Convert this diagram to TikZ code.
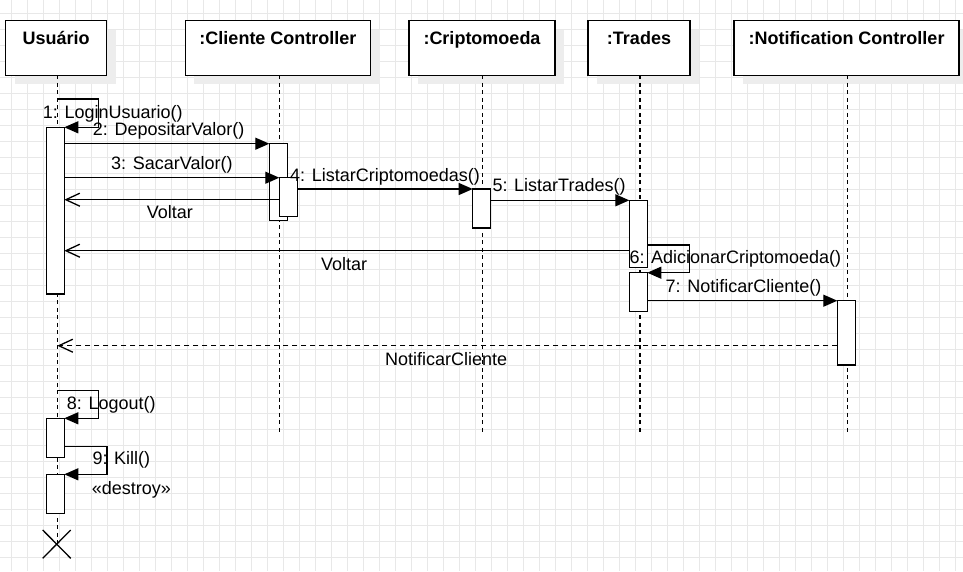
\documentclass[tikz,border=0pt]{standalone}
\usepackage{fontspec}
\setmainfont{Liberation Sans}
\usetikzlibrary{arrows.meta,shadows}
\begin{document}
\begin{tikzpicture}[x=1pt,y=-1pt,
  font=\fontsize{18}{21}\selectfont,
  gridline/.style={draw=black!9, line width=0.8pt},
  objbox/.style={draw=black, line width=1.5pt, fill=white, minimum height=54.6pt, inner sep=0pt,
    drop shadow={shadow xshift=9pt, shadow yshift=-9pt, fill=black!7, opacity=1}},
  objtitle/.style={anchor=base, font=\fontsize{18}{21}\selectfont\bfseries, inner sep=0pt},
  lifeline/.style={line width=1.3pt, dash pattern=on 4pt off 3.5pt},
  act/.style={draw=black, line width=1.3pt, fill=white, minimum width=18pt, inner sep=0pt},
  msg/.style={line width=1.3pt, -{Triangle[length=14pt,width=12pt]}},
  ret/.style={line width=1.3pt, -{Straight Barb[length=14pt,width=13pt]}},
  retd/.style={ret, dash pattern=on 5pt off 4pt},
  lbl/.style={anchor=base west, inner sep=0pt},
  xmark/.style={line width=1.3pt}
]
\useasboundingbox (0,0) rectangle (963,571);
% grid
\foreach \k in {0,...,60} { \draw[gridline] (11.7+16*\k,0) -- (11.7+16*\k,571); }
\foreach \k in {0,...,36} { \draw[gridline] (0,13+16*\k) -- (963,13+16*\k); }

% object boxes
\node[objbox, minimum width=101pt] (bu) at (56.2,48) {};
\node[objbox, minimum width=185.4pt] (bc) at (278,48) {};
\node[objbox, minimum width=146pt] (bk) at (482,48) {};
\node[objbox, minimum width=102pt] (bt) at (639,48) {};
\node[objbox, minimum width=225pt] (bn) at (846.5,48) {};
\node[objtitle] (tu) at (56.2,44.5) {Usuário};
\node[objtitle] (tc) at (278,44.5) {:Cliente Controller};
\node[objtitle] (tk) at (482,44.5) {:Criptomoeda};
\node[objtitle] (tt) at (639,44.5) {:Trades};
\node[objtitle] (tn) at (846.5,44.5) {:Notification Controller};

% lifeline ends
\coordinate (lu0) at (57.3,75.3);   \coordinate (lu1) at (57.3,544);
\coordinate (lc0) at (279.3,75.3);  \coordinate (lc1) at (279.3,433);
\coordinate (lk0) at (482.5,75.3);  \coordinate (lk1) at (482.5,433);
\coordinate (lt0) at (640,75.3);    \coordinate (lt1) at (640,433);
\coordinate (ln0) at (847.7,75.3);  \coordinate (ln1) at (847.7,433);
\draw[lifeline] (lu0) -- (lu1);
\draw[lifeline] (lc0) -- (lc1);
\draw[lifeline] (lk0) -- (lk1);
\draw[lifeline] (lt0) -- (lt1);
\draw[lifeline] (ln0) -- (ln1);

% activations
\node[act, minimum width=17.6pt, minimum height=166.7pt] (u1) at (55.5,210.65) {};
\node[act, minimum width=17.6pt, minimum height=39pt] (u2) at (55.5,437.8) {};
\node[act, minimum width=17.6pt, minimum height=39pt] (u3) at (55.5,493.8) {};
\node[act, minimum height=77pt] (c1) at (278.3,182.2) {};
\node[act, minimum height=67pt] (t1) at (638.3,233.8) {};
\node[act, minimum height=39pt] (t2) at (638.3,292.2) {};
\node[act, minimum height=64.3pt] (n1) at (846.3,332.85) {};

% message 1 (self)
\coordinate (m1a) at (57.3,99);
\coordinate (m1b) at (98.7,99);
\coordinate (m1c) at (98.7,127.3);
\coordinate (m1d) at (64.3,127.3);
\draw[msg] (m1a) -- (m1b) -- (m1c) -- (m1d);
% message 2
\coordinate (m2a) at (64.3,143.7);
\coordinate (m2b) at (269.3,143.7);
\draw[msg] (m2a) -- (m2b);
% message 3
\coordinate (m3a) at (64.3,177.7);
\coordinate (m3b) at (279.3,177.7);
\draw[msg] (m3a) -- (m3b);
% return voltar 1
\coordinate (r1a) at (279.3,199.7);
\coordinate (r1b) at (64.3,199.7);
\draw[ret] (r1a) -- (r1b);
% second activation on cliente, over the return
\node[act, minimum height=39pt] (c2) at (288.3,197.2) {};
\node[act, minimum height=39pt] (k1) at (481.7,208.5) {};
% message 4
\coordinate (m4a) at (297.3,189);
\coordinate (m4b) at (472.7,189);
\draw[msg] (m4a) -- (m4b);
% message 5
\coordinate (m5a) at (490.7,200.3);
\coordinate (m5b) at (629.3,200.3);
\draw[msg] (m5a) -- (m5b);
% return voltar 2
\coordinate (r2a) at (629.3,250.7);
\coordinate (r2b) at (64.3,250.7);
\draw[ret] (r2a) -- (r2b);
% message 6 (self)
\coordinate (m6a) at (647.3,245);
\coordinate (m6b) at (689.3,245);
\coordinate (m6c) at (689.3,272.7);
\coordinate (m6d) at (647.3,272.7);
\draw[msg] (m6a) -- (m6b) -- (m6c) -- (m6d);
% message 7
\coordinate (m7a) at (647.3,300.7);
\coordinate (m7b) at (837.3,300.7);
\draw[msg] (m7a) -- (m7b);
% return notificar cliente (dashed)
\coordinate (r3a) at (837.3,345.7);
\coordinate (r3b) at (57.3,345.7);
\draw[retd] (r3a) -- (r3b);
% message 8 (self)
\coordinate (m8a) at (57.3,390.7);
\coordinate (m8b) at (98.7,390.7);
\coordinate (m8c) at (98.7,418.3);
\coordinate (m8d) at (64.3,418.3);
\draw[msg] (m8a) -- (m8b) -- (m8c) -- (m8d);
% message 9 (self)
\coordinate (m9a) at (64.3,446.7);
\coordinate (m9b) at (107,446.7);
\coordinate (m9c) at (107,474.3);
\coordinate (m9d) at (64.3,474.3);
\draw[msg] (m9a) -- (m9b) -- (m9c) -- (m9d);

% destroy mark
\coordinate (x1) at (42.7,530);
\coordinate (x2) at (70.7,558.3);
\coordinate (x3) at (42.7,558.3);
\coordinate (x4) at (70.7,530);
\draw[xmark] (x1) -- (x2);
\draw[xmark] (x3) -- (x4);

% labels
\node[lbl] (l1) at (42.7,118) {1: LoginUsuario()};
\node[lbl] (l2) at (92.7,135.5) {2: DepositarValor()};
\node[lbl] (l3) at (111,169) {3: SacarValor()};
\node[lbl] (lv1) at (146.7,218.3) {Voltar};
\node[lbl] (l4) at (290,181) {4: ListarCriptomoedas()};
\node[lbl] (l5) at (492.3,191.5) {5: ListarTrades()};
\node[lbl] (lv2) at (321,270.5) {Voltar};
\node[lbl] (l6) at (629.3,263) {6: AdicionarCriptomoeda()};
\node[lbl] (l7) at (665.5,292) {7: NotificarCliente()};
\node[lbl] (lnc) at (385,365) {NotificarCliente};
\node[lbl] (l8) at (66.7,409) {8: Logout()};
\node[lbl] (l9) at (92.3,464) {9: Kill()};
\node[lbl] (ld) at (91.7,494) {«destroy»};
\end{tikzpicture}
\end{document}
